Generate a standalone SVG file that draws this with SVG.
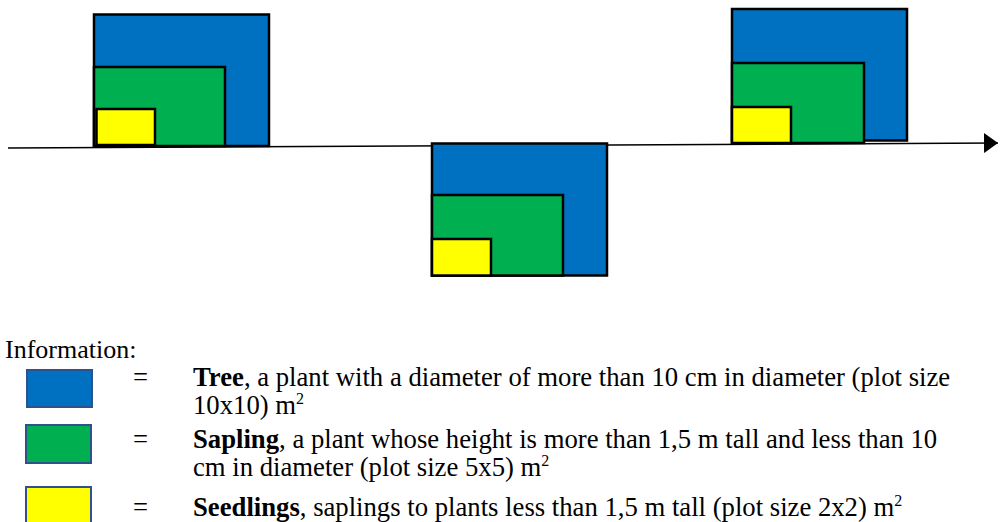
<svg xmlns="http://www.w3.org/2000/svg" width="1001" height="522" viewBox="0 0 1001 522">
<style>
.tree{fill:#0070C0;stroke:#000;stroke-width:2.5}
.sap{fill:#00B050;stroke:#000;stroke-width:2.5}
.seed{fill:#FFFF00;stroke:#000;stroke-width:2.5}
.lg{stroke:#2F528F;stroke-width:2}
text{font-family:"Liberation Serif","Times New Roman",serif;font-size:26.7px;fill:#000}
.info{font-size:26px}
.b{font-weight:bold}
.sup{font-size:16px}
</style>
<defs>
<marker id="arr" viewBox="0 0 14 20" refX="14" refY="10" markerWidth="14" markerHeight="20" markerUnits="userSpaceOnUse" orient="auto">
<path d="M0,0 L14,10 L0,20 Z" fill="#000"/>
</marker>
</defs>
<g id="connectors">
<line x1="8" y1="148" x2="998" y2="143" stroke="#000" stroke-width="1.5" marker-end="url(#arr)"/>
</g>
<g id="plot1">
<rect class="tree" x="94" y="14.5" width="175" height="131.5"/>
<rect class="sap" x="94" y="67" width="131" height="79"/>
<rect class="seed" x="96.5" y="109" width="58.5" height="36"/>
</g>
<g id="plot2">
<rect class="tree" x="432" y="143.5" width="175" height="132"/>
<rect class="sap" x="432" y="195" width="131" height="80.5"/>
<rect class="seed" x="432" y="239" width="59" height="36.5"/>
</g>
<g id="plot3">
<rect class="tree" x="732" y="9" width="175" height="131.5"/>
<rect class="sap" x="732" y="63" width="132" height="80"/>
<rect class="seed" x="732" y="107" width="59" height="36"/>
</g>
<g id="legend">
<text class="info" x="5" y="358">Information:</text>
<rect class="lg" x="27" y="370" width="65" height="37" fill="#0070C0"/>
<rect class="lg" x="26" y="425" width="65" height="38" fill="#00B050"/>
<rect class="lg" x="26" y="487" width="65" height="40" fill="#FFFF00"/>
<text x="133" y="386">=</text>
<text x="133" y="448">=</text>
<text x="133" y="516">=</text>
<text x="193" y="386"><tspan class="b">Tree</tspan>, a plant with a diameter of more than 10 cm in diameter (plot size</text>
<text x="193" y="414">10x10) m<tspan class="sup" dy="-10">2</tspan></text>
<text x="193" y="448"><tspan class="b">Sapling</tspan>, a plant whose height is more than 1,5 m tall and less than 10</text>
<text x="193" y="476">cm in diameter (plot size 5x5) m<tspan class="sup" dy="-10">2</tspan></text>
<text x="193" y="516"><tspan class="b">Seedlings</tspan>, saplings to plants less than 1,5 m tall (plot size 2x2) m<tspan class="sup" dy="-10">2</tspan></text>
</g>
</svg>
